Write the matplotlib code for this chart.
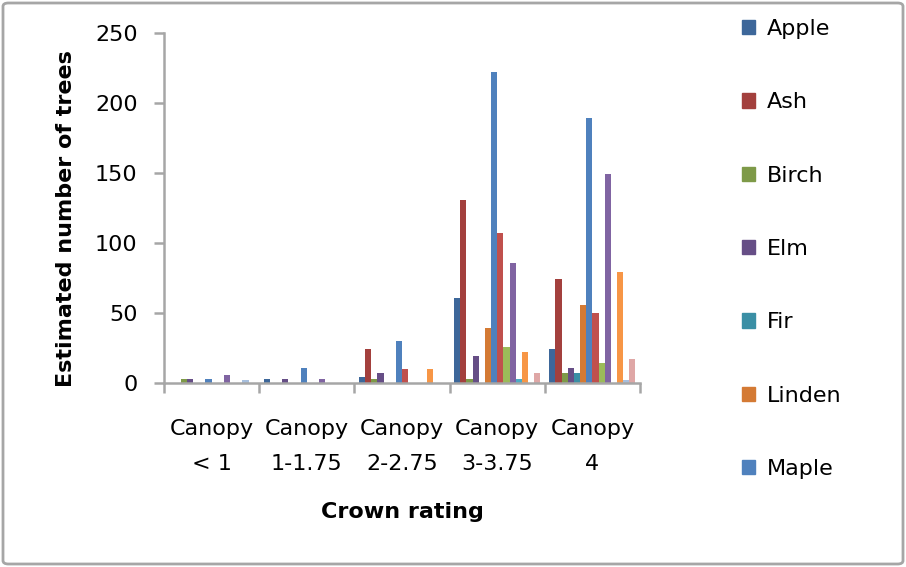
import numpy as np
import matplotlib
matplotlib.use("agg")
import matplotlib.pyplot as plt
from matplotlib.patches import FancyBboxPatch, Rectangle

plt.rcParams['font.family'] = ['DejaVu Sans']

# data
categories = ["Canopy\n< 1", "Canopy\n1-1.75", "Canopy\n2-2.75", "Canopy\n3-3.75", "Canopy\n4"]
species = ["Apple", "Ash", "Birch", "Elm", "Fir", "Linden", "Maple",
           "Oak", "Pine", "Poplar", "Spruce", "Walnut", "Willow", "Other"]
apple = [0, 3, 4, 61, 24]
ash = [0, 0, 24, 131, 74]
birch = [3, 0, 3, 3, 7]
elm = [3, 3, 7, 19, 11]
fir = [0, 0, 0, 0, 7]
linden = [0, 0, 0, 39, 56]
maple = [3, 11, 30, 222, 189]
oak = [0, 0, 10, 107, 50]
pine = [0, 0, 0, 26, 14]
poplar = [6, 3, 0, 86, 149]
spruce = [0, 0, 0, 3, 0]
walnut = [0, 0, 10, 22, 79]
willow = [2, 0, 0, 0, 2]
other = [0, 0, 0, 7, 17]
values = [apple, ash, birch, elm, fir, linden, maple,
          oak, pine, poplar, spruce, walnut, willow, other]

colors = ['#3D679A', '#A3403D', '#7E9A48', '#664E86', '#3A8FA5', '#D47A34', '#4F81BD',
          '#C0504D', '#9BBB59', '#8064A2', '#4BACC6', '#F79646', '#A7BFDE', '#DFA7A6']

fig = plt.figure(figsize=(9.06, 5.67), dpi=100)
ax = fig.add_axes([164 / 906, 1 - 383 / 567, 476 / 906, 350 / 567])

x = np.arange(len(categories))
n = len(species)
w = 0.905 / n
for i, (name, vals) in enumerate(zip(species, values)):
    ax.bar(x - 0.4525 + w * (i + 0.5), vals, width=w, color=colors[i], label=name)

ax.set_xlim(-0.5, len(categories) - 0.5)
ax.set_ylim(0, 250)
ax.set_yticks(range(0, 251, 50))

axis_grey = '#A6A6A6'
for s in ['top', 'right']:
    ax.spines[s].set_visible(False)
for s in ['left', 'bottom']:
    ax.spines[s].set_color(axis_grey)
    ax.spines[s].set_linewidth(1.8)

ax.set_xticks(np.arange(-0.5, len(categories), 1))
ax.set_xticklabels([])
ax.set_xticks(x, minor=True)
ax.set_xticklabels(categories, minor=True, linespacing=1.95)
ax.tick_params(axis='x', which='major', length=7, width=1.8, color=axis_grey)
ax.tick_params(axis='x', which='minor', length=0, pad=26, labelsize=16)
ax.tick_params(axis='y', length=7, width=1.8, color=axis_grey, pad=12, labelsize=16)

ax.set_ylabel("Estimated number of trees", fontsize=16, fontweight='bold')
ax.yaxis.set_label_coords(-0.185, 0.47)
ax.set_xlabel("Crown rating", fontsize=16, fontweight='bold', labelpad=20)

# only the first 7 entries fit in the legend box
handles = [Rectangle((0, 0), 1, 1, color=c) for c in colors[:7]]
fig.legend(handles, species[:7], loc='upper left', bbox_to_anchor=(742 / 906, 1 - 19 / 567),
           frameon=False, fontsize=16, handlelength=0.6, handleheight=0.6,
           handletextpad=0.5, labelspacing=2.4, borderpad=0, borderaxespad=0)

fig.patches.append(FancyBboxPatch((3 / 906, 3 / 567), 900 / 906, 561 / 567,
                                  boxstyle="round,pad=0,rounding_size=0.006",
                                  transform=fig.transFigure, fill=False,
                                  edgecolor='#A6A6A6', linewidth=2))

fig.savefig("out.png", dpi=100)
